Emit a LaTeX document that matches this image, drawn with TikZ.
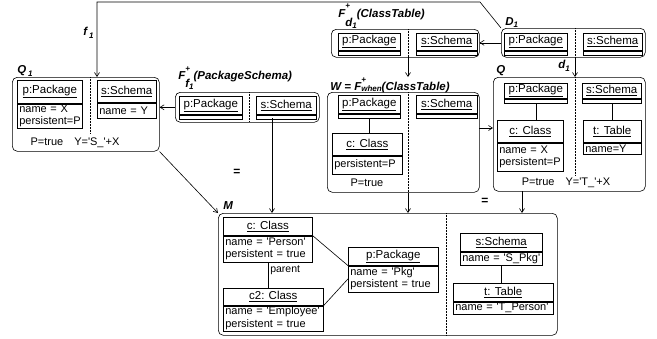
\documentclass[tikz,border=0pt]{standalone}
\usepackage{fontspec}
\setmainfont{Liberation Sans}
\usetikzlibrary{arrows.meta}
\newcommand{\sq}{\textquotesingle}
\tikzset{
  cont/.style={draw, rounded corners=5pt, anchor=north west, inner sep=0pt},
  hdr/.style={draw, anchor=north west, inner sep=0pt, font=\fontsize{11.5}{13}\selectfont},
  att/.style={draw, anchor=north west, inner xsep=2pt, inner ysep=0.8pt, align=left, font=\fontsize{11}{12.5}\selectfont},
  lbl/.style={anchor=base west, inner sep=0pt, font=\fontsize{11.5}{13}\selectfont\bfseries\itshape},
  note/.style={inner sep=0pt, font=\fontsize{11}{13}\selectfont},
  sep/.style={densely dotted, line width=0.5pt},
  arr/.style={-{Straight Barb[length=4pt,width=5pt]}},
}
\begin{document}
\begin{tikzpicture}[x=1pt, y=-1pt, line width=0.6pt]
  \useasboundingbox (0,0) rectangle (657,338);

  % Q1
  \node[cont, minimum width=147, minimum height=74] (q1) at (12,77) {};
  \node[lbl] (q1lbl) at (17,73) {Q\,\raisebox{-3pt}{\footnotesize 1}};
  \node[hdr, minimum width=65, minimum height=23] (q1ph) at (17,80) {\underline{p:Package}};
  \node[att, text width=61, minimum height=22] (q1pa) at (q1ph.south west) {name = X\\persistent=P};
  \node[hdr, minimum width=59, minimum height=22] (q1sh) at (97,80) {\underline{s:Schema}};
  \node[att, text width=55, minimum height=15] (q1sa) at (q1sh.south west) {name = Y};
  \draw[sep] (90,77) -- (90,134);
  \node[note] (q1cond) at (75,143) {P=true\quad Y=\sq S\_\sq+X};

  % F_f1
  \node[cont, minimum width=144, minimum height=30] (ff) at (175,92) {};
  \node[lbl] (fflbl) at (178,79) {F\rlap{\raisebox{8pt}{\footnotesize +}}\raisebox{-8pt}{f\raisebox{-2pt}{\footnotesize 1}}(PackageSchema)};
  \node[hdr, minimum width=63, minimum height=18] (ffph) at (179,96) {\underline{p:Package}};
  \node[att, text width=59, minimum height=4] (ffpa) at (ffph.south west) {};
  \node[hdr, minimum width=60, minimum height=18] (ffsh) at (256,96) {\underline{s:Schema}};
  \node[att, text width=56, minimum height=4] (ffsa) at (ffsh.south west) {};
  \draw[sep] (249,92) -- (249,122);

  % F_d1
  \node[cont, minimum width=148, minimum height=28] (fd) at (331,29) {};
  \node[lbl] (fdlbl) at (338,17) {F\rlap{\raisebox{9pt}{\footnotesize +}}\raisebox{-9pt}{d\raisebox{-2pt}{\footnotesize 1}}(ClassTable)};
  \node[hdr, minimum width=62, minimum height=17] (fdph) at (338,33) {\underline{p:Package}};
  \node[att, text width=58, minimum height=4] (fdpa) at (fdph.south west) {};
  \node[hdr, minimum width=61, minimum height=17] (fdsh) at (416,33) {\underline{s:Schema}};
  \node[att, text width=57, minimum height=4] (fdsa) at (fdsh.south west) {};
  \draw[sep] (408,29) -- (408,57);

  % D1
  \node[cont, minimum width=144, minimum height=29] (d1) at (501,28) {};
  \node[lbl] (d1lbl) at (505,25) {D\raisebox{-2pt}{\footnotesize 1}};
  \node[hdr, minimum width=63, minimum height=17] (d1ph) at (504,33) {\underline{p:Package}};
  \node[att, text width=59, minimum height=4] (d1pa) at (d1ph.south west) {};
  \node[hdr, minimum width=59, minimum height=17] (d1sh) at (583,33) {\underline{s:Schema}};
  \node[att, text width=55, minimum height=4] (d1sa) at (d1sh.south west) {};
  \draw[sep] (575,28) -- (575,57);

  % W
  \node[cont, minimum width=152, minimum height=100] (w) at (327,92) {};
  \node[lbl] (wlbl) at (330,90) {W = F\rlap{\raisebox{8pt}{\footnotesize +}}\raisebox{-1pt}{\footnotesize when}(ClassTable)};
  \node[hdr, minimum width=62, minimum height=18] (wph) at (338,95) {\underline{p:Package}};
  \node[att, text width=58, minimum height=4] (wpa) at (wph.south west) {};
  \node[hdr, minimum width=61, minimum height=18] (wsh) at (416,95) {\underline{s:Schema}};
  \node[att, text width=57, minimum height=4] (wsa) at (wsh.south west) {};
  \node[hdr, minimum width=70, minimum height=22] (wch) at (332,133) {\underline{c: Class}};
  \node[att, text width=66, minimum height=18] (wca) at (wch.south west) {persistent=P};
  \draw (wpa.south) -- (wpa.south |- wch.north);
  \draw[sep] (408,92) -- (408,192);
  \node[note] (wcond) at (367,183) {P=true};

  % Q
  \node[cont, minimum width=152, minimum height=114] (q) at (493,77) {};
  \node[lbl] (qlbl) at (496,73) {Q};
  \node[hdr, minimum width=63, minimum height=15] (qph) at (504,83) {\underline{p:Package}};
  \node[att, text width=59, minimum height=4] (qpa) at (qph.south west) {};
  \node[hdr, minimum width=59, minimum height=15] (qsh) at (582,83) {\underline{s:Schema}};
  \node[att, text width=55, minimum height=4] (qsa) at (qsh.south west) {};
  \node[hdr, minimum width=66, minimum height=22] (qch) at (497,120) {\underline{c: Class}};
  \node[att, text width=62, minimum height=28] (qca) at (qch.south west) {name = X\\persistent=P};
  \node[hdr, minimum width=58, minimum height=22] (qth) at (583,120) {\underline{t: Table}};
  \node[att, text width=54, minimum height=11] (qta) at (qth.south west) {name=Y};
  \draw (qpa.south) -- (qpa.south |- qch.north);
  \draw (qsa.south) -- (qsa.south |- qth.north);
  \draw[sep] (575,77) -- (575,175);
  \node[note] (qcond) at (566,183) {P=true\quad Y=\sq T\_\sq+X};

  % M
  \node[cont, minimum width=339, minimum height=122] (m) at (218,213) {};
  \node[lbl] (mlbl) at (223,209) {M};
  \node[hdr, minimum width=89, minimum height=18] (mch) at (223,217) {\underline{c: Class}};
  \node[att, text width=85, minimum height=26] (mca) at (mch.south west) {name = \sq Person\sq\\persistent = true};
  \node[hdr, minimum width=100, minimum height=17] (mc2h) at (223,288) {\underline{c2: Class}};
  \node[att, text width=96, minimum height=25] (mc2a) at (mc2h.south west) {name = \sq Employee\sq\\persistent = true};
  \node[hdr, minimum width=90, minimum height=18] (mph) at (348,247) {\underline{p:Package}};
  \node[att, text width=86, minimum height=26] (mpa) at (mph.south west) {name = \sq Pkg\sq\\persistent = true};
  \node[hdr, minimum width=82, minimum height=18] (msh) at (460,233) {\underline{s:Schema}};
  \node[att, text width=78, minimum height=13] (msa) at (msh.south west) {name = \sq S\_Pkg\sq};
  \node[hdr, minimum width=100, minimum height=18] (mth) at (453,283) {\underline{t: Table}};
  \node[att, text width=96, minimum height=12] (mta) at (mth.south west) {name = \sq T\_Person\sq};
  \draw (mca.south) -- (mca.south |- mc2h.north);
  \node[note, anchor=west, font=\fontsize{10.5}{12}\selectfont] (mpar) at (270,270) {parent};
  \draw (mch.south east) -- (mph.south west);
  \draw (mc2h.south east) -- (mpa.west);
  \draw (msa.south) -- (msa.south |- mth.north);
  \draw[sep] (446,213) -- (446,335);

  % equal signs
  \node[note, font=\fontsize{12}{13}\selectfont\bfseries] (eq1) at (237,172) {=};
  \node[note, font=\fontsize{12}{13}\selectfont\bfseries] (eq2) at (485,201) {=};

  % morphisms
  \coordinate (f1top) at (97,2);
  \draw[arr] (d1.north west) -- (480,2) -- (f1top) -- (f1top |- q1.north);
  \node[lbl] (f1lbl) at (83,35) {f\,\raisebox{-3pt}{\footnotesize 1}};
  \draw[arr] (ff.west) -- (ff.west -| q1.east);
  \draw[arr] (d1.west) -- (d1.west -| fd.east);
  \coordinate (d1dot) at (575,57);
  \draw[arr] (d1dot) -- (d1dot |- q.north);
  \node[lbl] (d1arr) at (558,68) {d\raisebox{-3pt}{\footnotesize 1}};
  \coordinate (fddot) at (408,57);
  \draw[arr] (fddot) -- (fddot |- wlbl.north);
  \coordinate (wq) at (479,128);
  \draw[arr] (wq) -- (wq -| q.west);
  \coordinate (ffdown) at (272,118);
  \draw[arr] (ffdown) -- (ffdown |- m.north);
  \draw[arr] (fddot |- w.south) -- (fddot |- m.north);
  \coordinate (qdown) at (522,191);
  \draw[arr] (qdown) -- (qdown |- m.north);
  \draw[arr] (q1.south east) -- (m.north west);
\end{tikzpicture}
\end{document}
